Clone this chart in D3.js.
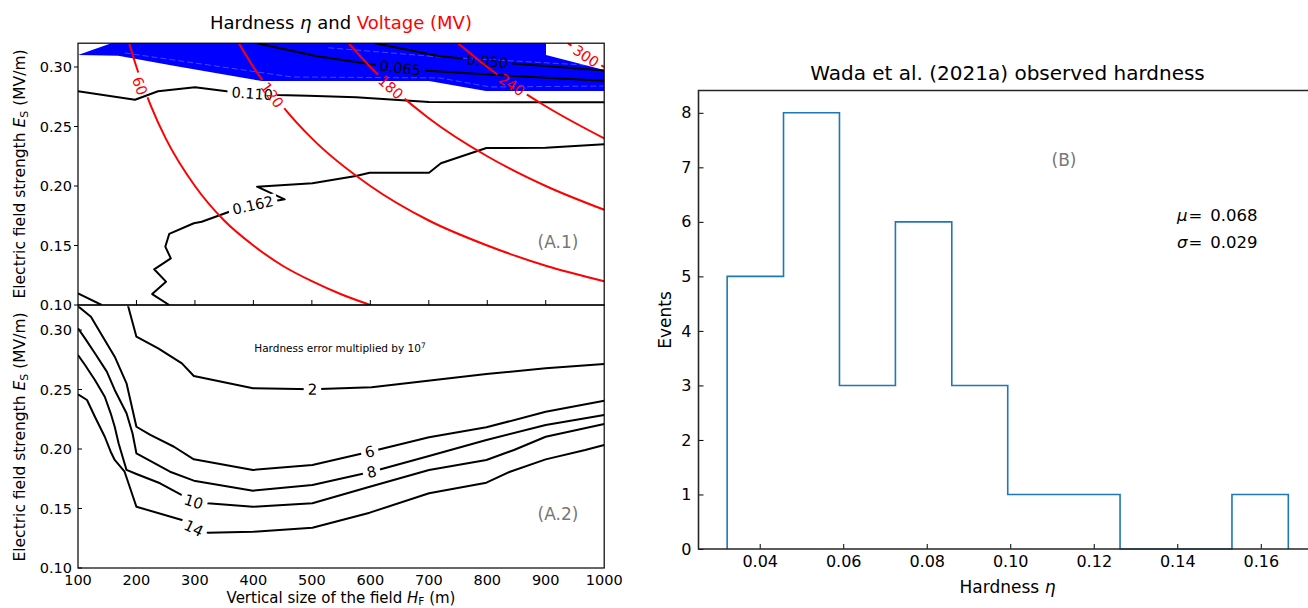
<!DOCTYPE html>
<html><head><meta charset="utf-8">
<script src="https://cdn.jsdelivr.net/npm/d3@7"></script>
<style>
body{margin:0;background:#fff}
text{font-family:"DejaVu Sans",sans-serif}
</style>
</head><body>
<svg id="c" width="1308" height="608"></svg>
<script>
// ---------------- DATA ----------------
// Panel A.1 : hardness contours, [H_F (m), E_S (MV/m)]
const eta050 = [[608,0.320],[668,0.314],[719,0.309],[800,0.305],[844,0.303],[1000,0.297]];
const eta065 = [[406,0.320],[509,0.309],[599,0.3025],[651,0.2992],[690,0.297],[844,0.2924],[1000,0.2885]];
const eta110 = [[100,0.2796],[197.5,0.2725],[236.8,0.2796],[300.1,0.2829],[354.3,0.2796],[398,0.2777],[440,0.2765],[493.4,0.2759],[575.5,0.2745],[700.4,0.2706],[1000,0.2703]];
const eta162 = [[256,0.100],[226.9,0.1092],[250.5,0.1196],[230.3,0.1300],[258.7,0.1392],[249.3,0.1490],[256,0.1597],[298.1,0.1687],[311.6,0.1700],[358.8,0.1784],[399,0.184],[453.5,0.1888],[406.2,0.1994],[500.9,0.2023],[575.3,0.2084],[598.9,0.2112],[700.4,0.2112],[720.7,0.2191],[798.5,0.2319],[899.9,0.2322],[1000,0.2350]];
const etaCorner = [[100,0.1098],[140.5,0.100]];
const etaLabels = [["0.050",800,0.305],["0.065",651,0.2992],["0.110",398,0.2777],["0.162",399,0.184]];

// Blue filled region and its faint inner lines
const blueRegion = [[100,0.3101],[186,0.325],[900.5,0.325],[900.5,0.3101],[1000,0.2975],[1000,0.2798],[797.9,0.2798],[700.4,0.2882],[414.7,0.2882],[265.9,0.3008],[168.9,0.3095]];
const blueFaint1 = [[180,0.3118],[466,0.2916],[719,0.2908],[805,0.2832],[1000,0.2840]];
const blueFaint2 = [[528,0.3162],[711,0.3087],[1000,0.3008]];

// Voltage contours (MV)
const volt60  = [[187.5,0.32],[200,0.30],[225,0.267],[250,0.24],[300,0.20],[350,0.171],[400,0.15],[450,0.133],[500,0.12],[550,0.109],[600,0.10]];
const volt120 = [[375,0.32],[400,0.30],[450,0.267],[500,0.24],[600,0.20],[700,0.171],[800,0.15],[900,0.133],[1000,0.12]];
const volt180 = [[563,0.32],[600,0.30],[700,0.257],[800,0.225],[900,0.20],[1000,0.18]];
const volt240 = [[750,0.32],[800,0.30],[900,0.267],[1000,0.24]];
const volt300 = [[938,0.32],[970,0.309],[1000,0.30]];
const voltLabels = [["60",206,0.284],["120",432,0.2765],["180",635,0.283],["240",842,0.285],["300",969,0.3092]];

// Panel A.2 : hardness error (x 1e7) contours
const err2  = [[183,0.325],[199.9,0.2944],[237.2,0.2846],[277.7,0.2720],[298.1,0.2613],[399.3,0.2510],[500.9,0.2502],[602.3,0.2518],[798.5,0.2630],[899.9,0.2678],[1000,0.2714]];
const err6  = [[100,0.32],[122.1,0.3112],[142.4,0.2944],[162.8,0.2776],[183,0.2552],[199.9,0.2187],[223.7,0.2118],[264.2,0.2019],[298.1,0.1913],[399.3,0.1824],[500.9,0.1866],[599,0.1977],[700.4,0.2098],[798.5,0.2182],[899.9,0.2313],[1000,0.2406]];
const err8  = [[100,0.3014],[112,0.2930],[128.9,0.2804],[149.3,0.2650],[162.8,0.2496],[183,0.2300],[193.2,0.2132],[199.9,0.1964],[257.4,0.1809],[298.1,0.1734],[399.3,0.1650],[500.9,0.1697],[602.3,0.1809],[700.4,0.1941],[798.5,0.2076],[899.9,0.2202],[1000,0.2286]];
const err10 = [[100,0.2790],[112,0.2706],[128.9,0.2580],[145.8,0.2439],[155.9,0.2300],[162.8,0.2187],[169.4,0.2048],[183,0.1824],[199.9,0.1790],[240.4,0.1712],[277.7,0.1613],[298.1,0.1557],[321.7,0.1544],[399.3,0.1515],[500.9,0.1544],[599,0.1683],[700.4,0.1824],[798.5,0.1908],[845.7,0.1992],[899.9,0.2103],[1000,0.2210]];
const err14 = [[100,0.2460],[115.4,0.2412],[128.9,0.2271],[145.8,0.2103],[155.9,0.1977],[162.8,0.1908],[179.7,0.1809],[199.9,0.1515],[277.7,0.1403],[298.1,0.1335],[321.7,0.1297],[399.3,0.1305],[500.9,0.1339],[599,0.1465],[700.4,0.1628],[798.5,0.1717],[838.9,0.1809],[899.9,0.1913],[967.5,0.1992],[1000,0.2034]];
const errLabels = [["2",501,0.2502],["6",599,0.1977],["8",602,0.1809],["10",298,0.1557],["14",298,0.1335]];

const xTicksA = [100,200,300,400,500,600,700,800,900,1000];
const yTicksA = [0.10,0.15,0.20,0.25,0.30];

// Panel B : histogram
const binEdges = [0.0322,0.0457,0.0591,0.0725,0.0860,0.0994,0.1128,0.1263,0.1397,0.1531,0.1666];
const counts   = [5,8,3,6,3,1,1,0,0,1];
const xTicksB  = [0.04,0.06,0.08,0.10,0.12,0.14,0.16];
const yTicksB  = [0,1,2,3,4,5,6,7,8];
const statMu = "0.068", statSigma = "0.029";

// ---------------- DRAWING ----------------
const svg = d3.select("#c");
const defs = svg.append("defs");
const W = 1308, Hh = 608;

const xL = d3.scaleLinear().domain([100,1000]).range([78,604.2]);
const y1 = d3.scaleLinear().domain([0.10,0.32]).range([305,43.2]);
const y2 = d3.scaleLinear().domain([0.10,0.32]).range([568,306.2]);

function clip(id, x0, y0, x1, y1_) {
  defs.append("clipPath").attr("id", id).append("rect")
    .attr("x", x0).attr("y", y0).attr("width", x1 - x0).attr("height", y1_ - y0);
}
clip("clipA1", 78, 43.2, 604.2, 305);
clip("clipA2", 78, 306.2, 604.2, 568);

function angleAt(lines, x, y, px, py) {
  let best = Infinity, ang = 0;
  lines.forEach(l => {
    const pts = l.map(p => [x(p[0]), y(p[1])]);
    for (let i = 0; i < pts.length; i++) {
      const d = (pts[i][0]-px)**2 + (pts[i][1]-py)**2;
      if (d < 1 && i > 0 && i < pts.length-1) {
        if (d < best) { best = d; ang = Math.atan2(pts[i+1][1]-pts[i-1][1], pts[i+1][0]-pts[i-1][0]); }
      }
    }
    for (let i = 0; i < pts.length - 1; i++) {
      const [ax, ay] = pts[i], [bx, by] = pts[i+1];
      const dx = bx-ax, dy = by-ay, L2 = dx*dx+dy*dy;
      let t = ((px-ax)*dx + (py-ay)*dy) / L2; t = Math.max(0, Math.min(1, t));
      const qx = ax+t*dx-px, qy = ay+t*dy-py, d = qx*qx+qy*qy + 1;
      if (d < best) { best = d; ang = Math.atan2(dy, dx); }
    }
  });
  ang = ang * 180 / Math.PI;
  if (ang > 90) ang -= 180;
  if (ang < -90) ang += 180;
  return ang;
}

let maskN = 0;
function contourSet(parent, clipId, x, y, lines, labels, color, fs, curve) {
  const g = parent.append("g");
  const lineG = g.append("g").attr("clip-path", `url(#${clipId})`);
  const labG = g.append("g");
  const rects = [];
  labels.forEach(([txt, h, e]) => {
    const px = x(h), py = y(e);
    const ang = angleAt(lines, x, y, px, py);
    const t = labG.append("text")
      .attr("transform", `translate(${px},${py}) rotate(${ang})`)
      .attr("text-anchor", "middle").attr("dy", "0.36em")
      .attr("fill", color).attr("font-size", fs).text(txt);
    const bb = t.node().getBBox();
    rects.push({px, py, ang, w: bb.width + 8, h: fs * 0.95});
  });
  const id = "m" + (maskN++);
  const m = defs.append("mask").attr("id", id).attr("maskUnits", "userSpaceOnUse")
    .attr("x", 0).attr("y", 0).attr("width", W).attr("height", Hh);
  m.append("rect").attr("x", 0).attr("y", 0).attr("width", W).attr("height", Hh).attr("fill", "#fff");
  rects.forEach(r => m.append("rect")
    .attr("transform", `translate(${r.px},${r.py}) rotate(${r.ang})`)
    .attr("x", -r.w/2).attr("y", -r.h/2).attr("width", r.w).attr("height", r.h).attr("fill", "#000"));
  const line = d3.line().x(d => x(d[0])).y(d => y(d[1])).curve(curve);
  lineG.append("g").attr("mask", `url(#${id})`)
    .selectAll("path").data(lines).join("path")
    .attr("d", line).attr("fill", "none").attr("stroke", color)
    .attr("stroke-width", 2).attr("stroke-linejoin", "round");
  return g;
}

// ---- Panel A.1 ----
const gA1 = svg.append("g");
const lineLin = d3.line().x(d => xL(d[0])).y(d => y1(d[1]));
gA1.append("g").attr("clip-path", "url(#clipA1)").append("path")
  .attr("d", lineLin(blueRegion) + "Z").attr("fill", "#0000ff").attr("stroke", "none");
gA1.append("g").attr("clip-path", "url(#clipA1)").selectAll("path")
  .data([blueFaint1, blueFaint2]).join("path")
  .attr("d", lineLin).attr("fill", "none").attr("stroke", "#ffffff")
  .attr("stroke-opacity", 0.35).attr("stroke-width", 0.8).attr("stroke-dasharray", "6,3");
contourSet(gA1, "clipA1", xL, y1, [eta050, eta065, eta110, eta162, etaCorner], etaLabels, "#000", 14.5, d3.curveLinear);
contourSet(gA1, "clipA1", xL, y1, [volt60, volt120, volt180, volt240, volt300], voltLabels, "#ff0000", 14.5, d3.curveMonotoneX);

// ---- Panel A.2 ----
const gA2 = svg.append("g");
contourSet(gA2, "clipA2", xL, y2, [err2, err6, err8, err10, err14], errLabels, "#000", 15, d3.curveLinear);

// Frames
[[43.2,305],[305,568]].forEach(([t,b]) => {
  svg.append("rect").attr("x", 78).attr("y", t).attr("width", 604.2-78).attr("height", b-t)
    .attr("fill", "none").attr("stroke", "#000").attr("stroke-width", 1.2);
});

// A.1 ticks: y outward, x inward at bottom
const tA1 = svg.append("g");
yTicksA.forEach(v => {
  tA1.append("line").attr("x1", 74).attr("x2", 78).attr("y1", y1(v)).attr("y2", y1(v)).attr("stroke", "#000").attr("stroke-width", 1);
  tA1.append("text").attr("x", 72).attr("y", y1(v)).attr("dy", "0.36em").attr("text-anchor", "end")
    .attr("font-size", 14.5).text(v.toFixed(2));
});
xTicksA.slice(1, -1).forEach(v => {
  tA1.append("line").attr("x1", xL(v)).attr("x2", xL(v)).attr("y1", 305).attr("y2", 300).attr("stroke", "#000").attr("stroke-width", 1);
});
// A.2 ticks
const tA2 = svg.append("g");
yTicksA.forEach(v => {
  tA2.append("line").attr("x1", 78).attr("x2", 82).attr("y1", y2(v)).attr("y2", y2(v)).attr("stroke", "#000").attr("stroke-width", 1);
  tA2.append("text").attr("x", 72).attr("y", y2(v)).attr("dy", "0.36em").attr("text-anchor", "end")
    .attr("font-size", 14.5).text(v.toFixed(2));
});
xTicksA.forEach(v => {
  tA2.append("text").attr("x", xL(v)).attr("y", 580).attr("dy", "0.36em").attr("text-anchor", "middle")
    .attr("font-size", 14.5).text(v);
});

// Titles / labels for A
const tt = svg.append("text").attr("x", 341).attr("y", 29).attr("text-anchor", "middle").attr("font-size", 18);
tt.append("tspan").text("Hardness ");
tt.append("tspan").attr("font-style", "italic").text("η");
tt.append("tspan").text(" and ");
tt.append("tspan").attr("fill", "#ff0000").text("Voltage (MV)");

function yLabel(cy) {
  const t = svg.append("text").attr("transform", `translate(25,${cy}) rotate(-90)`)
    .attr("text-anchor", "middle").attr("font-size", 15.5);
  t.append("tspan").text("Electric field strength ");
  t.append("tspan").attr("font-style", "italic").text("E");
  t.append("tspan").attr("font-size", 11).attr("dy", 3).text("S");
  t.append("tspan").attr("dy", -3).text(" (MV/m)");
}
yLabel(174); yLabel(437);

const xl = svg.append("text").attr("x", 341).attr("y", 603).attr("text-anchor", "middle").attr("font-size", 15);
xl.append("tspan").text("Vertical size of the field ");
xl.append("tspan").attr("font-style", "italic").text("H");
xl.append("tspan").attr("font-size", 10.5).attr("dy", 2).text("F");
xl.append("tspan").attr("dy", -2).text(" (m)");

svg.append("text").attr("x", 558).attr("y", 242).attr("dy", "0.36em").attr("text-anchor", "middle")
  .attr("font-size", 17).attr("fill", "#777").text("(A.1)");
svg.append("text").attr("x", 558).attr("y", 514).attr("dy", "0.36em").attr("text-anchor", "middle")
  .attr("font-size", 17).attr("fill", "#777").text("(A.2)");
const note = svg.append("text").attr("x", 340).attr("y", 352).attr("text-anchor", "middle").attr("font-size", 10.5);
note.append("tspan").text("Hardness error multiplied by 10");
note.append("tspan").attr("font-size", 7.5).attr("dy", -4).text("7");

// ---- Panel B ----
const xH = d3.scaleLinear().domain([0.02534, 0.1733]).range([698.5, 1316.3]);
const yH = d3.scaleLinear().domain([0, 8.4]).range([549, 91]);
const gB = svg.append("g");
const steps = [[binEdges[0], 0]];
counts.forEach((c, i) => { steps.push([binEdges[i], c]); steps.push([binEdges[i+1], c]); });
steps.push([binEdges[binEdges.length-1], 0]);
gB.append("path").attr("d", d3.line().x(d => xH(d[0])).y(d => yH(d[1]))(steps))
  .attr("fill", "none").attr("stroke", "#1f77b4").attr("stroke-width", 1.6);

const axX = gB.append("g").attr("transform", "translate(0,549)")
  .call(d3.axisBottom(xH).tickValues(xTicksB).tickSize(-5).tickPadding(7).tickFormat(d3.format(".2f")));
const axY = gB.append("g").attr("transform", "translate(698.5,0)")
  .call(d3.axisLeft(yH).tickValues(yTicksB).tickSize(-5).tickPadding(7).tickFormat(d3.format("d")));
[axX, axY].forEach(a => {
  a.select(".domain").remove();
  a.selectAll("text").attr("font-size", 16).attr("font-family", "DejaVu Sans").attr("fill", "#000");
  a.selectAll("line").attr("stroke", "#000").attr("stroke-width", 1);
});
gB.append("path").attr("d", "M1316.3,90.5H698.5V549H1316.3").attr("fill", "none").attr("stroke", "#262626").attr("stroke-width", 1.6);

svg.append("text").attr("x", 1007.5).attr("y", 80).attr("text-anchor", "middle").attr("font-size", 20)
  .text("Wada et al. (2021a) observed hardness");
svg.append("text").attr("transform", "translate(671,320) rotate(-90)").attr("text-anchor", "middle")
  .attr("font-size", 17).text("Events");
const hx = svg.append("text").attr("x", 1007.5).attr("y", 593).attr("text-anchor", "middle").attr("font-size", 17);
hx.append("tspan").text("Hardness ");
hx.append("tspan").attr("font-style", "italic").text("η");
svg.append("text").attr("x", 1064).attr("y", 160).attr("dy", "0.36em").attr("text-anchor", "middle")
  .attr("font-size", 17).attr("fill", "#777").text("(B)");
[["μ", statMu, 215], ["σ", statSigma, 242]].forEach(([s, v, yy]) => {
  const t = svg.append("text").attr("x", 1177).attr("y", yy).attr("dy", "0.36em").attr("font-size", 16.5);
  t.append("tspan").attr("font-style", "italic").text(s);
  t.append("tspan").attr("dx", 1).text("=");
  t.append("tspan").attr("dx", 8).text(v);
});
</script>
</body></html>
